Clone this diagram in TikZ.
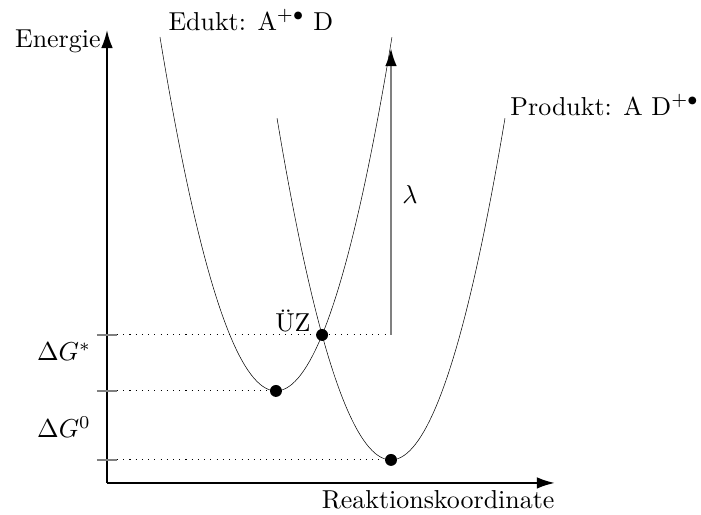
\documentclass[tikz,border=0pt]{standalone}
\usepackage{amsmath}
\usetikzlibrary{arrows.meta, positioning, calc, intersections}

\tikzset{
  achse/.style={thick, -{Latex[length=7pt,width=4.5pt]}},
  kurve/.style={very thin},
  punkt/.style={circle, fill, inner sep=0pt, minimum size=4.6pt},
  hilfslinie/.style={dotted, thin},
  strich/.style={gray, thick},
  beschriftung/.style={inner sep=0pt},
}

\begin{document}
\begin{tikzpicture}
\useasboundingbox (-1.45,-0.434) rectangle (8.05,6.545);

\coordinate (O) at (0,0);
\coordinate (ytop) at (0,6.14);
\coordinate (xend) at (6.07,0);
\draw[achse] (O) -- (ytop);
\draw[achse] (O) -- (xend);
\node[beschriftung, anchor=east] (energie) at (-0.08,5.98) {Energie};
\node[beschriftung, anchor=north east] (koordinate) at (6.07,-0.1) {Reaktionskoordinate};

% Parabeln
\draw[kurve, name path=edukt] plot[domain=0.718:3.862, samples=80] (\x, {1.247+1.941*(\x-2.29)^2});
\draw[kurve, name path=produkt] plot[domain=2.304:5.394, samples=80] (\x, {0.312+1.941*(\x-3.849)^2});
\path[name intersections={of=edukt and produkt, by=schnitt}];

\node[punkt] (minE) at (2.29,1.247) {};
\node[punkt] (minP) at (3.849,0.312) {};
\node[punkt] (UZ) at (schnitt) {};

\coordinate (tU) at (O |- UZ);
\coordinate (tE) at (O |- minE);
\coordinate (tP) at (O |- minP);
\coordinate (lamfuss) at (minP |- UZ);
\coordinate (lamkopf) at (3.849,5.895);

\foreach \t in {tU, tE, tP}
  \draw[strich] ([xshift=-0.136cm]\t) -- ([xshift=0.136cm]\t);

\draw[hilfslinie] ([xshift=0.136cm]tU) -- (lamfuss);
\draw[hilfslinie] ([xshift=0.136cm]tE) -- (minE);
\draw[hilfslinie] ([xshift=0.136cm]tP) -- (minP);

\draw[gray, line width=1pt, -{Latex[length=7pt,width=4.5pt,color=black]}] (lamfuss) -- (lamkopf);

\node (lambda) at (4.106,3.903) {$\lambda$};
\node (uzlabel) at (2.52,2.2) {\"UZ};
\node (dGstern) at (-0.583,1.775) {$\Delta G^{*}$};
\node (dGnull) at (-0.583,0.759) {$\Delta G^{0}$};
\node[beschriftung, anchor=west] (eduktlabel) at (0.827,6.275) {Edukt: A$^{+\bullet}$ D};
\node[beschriftung, anchor=west] (produktlabel) at (5.461,5.12) {Produkt: A D$^{+\bullet}$};
\end{tikzpicture}
\end{document}
